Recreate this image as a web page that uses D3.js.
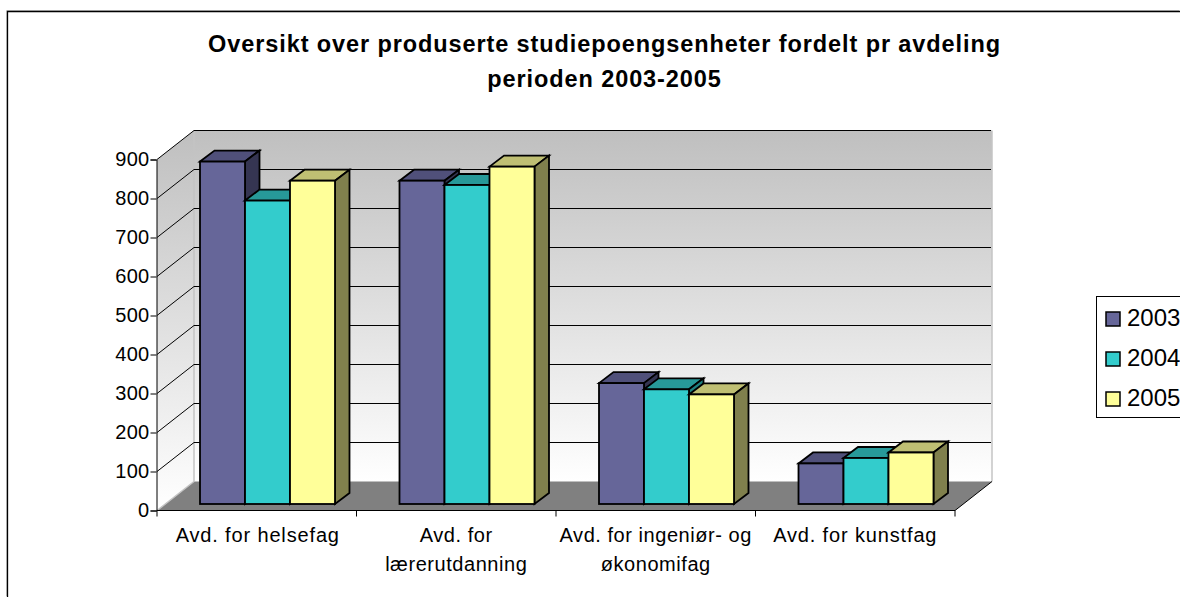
<!DOCTYPE html>
<html><head><meta charset="utf-8">
<script src="https://cdn.jsdelivr.net/npm/d3@7"></script>
<style>html,body{margin:0;padding:0;background:#fff;overflow:hidden}svg{display:block}text{font-family:"Liberation Sans",Arial,sans-serif;fill:#000}</style>
</head><body><svg id="c" width="1180" height="597"></svg>
<script>
const titleLines = ["Oversikt over produserte studiepoengsenheter fordelt pr avdeling","perioden 2003-2005"];
const categories = ["Avd. for helsefag","Avd. for lærerutdanning","Avd. for ingeniør- og økonomifag","Avd. for kunstfag"];
const categoryLines = [["Avd. for helsefag"],["Avd. for","lærerutdanning"],["Avd. for ingeniør- og","økonomifag"],["Avd. for kunstfag"]];
const seriesNames = ["2003","2004","2005"];
const v2003 = [878,829,310,104];
const v2004 = [778,818,294,118];
const v2005 = [829,865,281,132];
const seriesValues = [v2003,v2004,v2005];
const yTicks = [0,100,200,300,400,500,600,700,800,900];
const colors = {"2003":["#666699","#50507a","#353552"],"2004":["#33CCCC","#279999","#1f8080"],"2005":["#FFFF99","#BFBF73","#80804d"]};

const svg = d3.select("#c");
const y = d3.scaleLinear().domain([0,900]).range([510.5,159.5]);
const x0 = d3.scaleBand().domain(categories).range([157,955]);
const x1 = d3.scaleBand().domain(seriesNames).range([43,178]);
const depth = {dx:37,dy:-29};
const bar = {oy:-6.5,dx:14.5,dy:-11};

const defs = svg.append("defs");
const g = defs.append("linearGradient").attr("id","wall").attr("x1",0).attr("x2",0).attr("y1",0).attr("y2",1);
g.append("stop").attr("offset",0).attr("stop-color","#bfbfbf");
g.append("stop").attr("offset",1).attr("stop-color","#ffffff");

// frame
svg.append("path").attr("d","M7.5,597V11.5H1180").attr("fill","none").attr("stroke","#c8c8c8").attr("stroke-width",1).attr("transform","translate(-1,-1)");
svg.append("path").attr("d","M7.5,597V11.5H1180").attr("fill","none").attr("stroke","#000").attr("stroke-width",1.3);

// title
svg.append("g").selectAll("text").data(titleLines).join("text")
  .attr("x",604.5).attr("y",(d,i)=>i?87:52).attr("text-anchor","middle")
  .attr("font-weight","bold").attr("font-size",23.5).attr("letter-spacing",0.9).text(d=>d);

const xL = x0.range()[0], xR = x0.range()[1], yB = y(0), yT = y(900);
const P = pts => "M"+pts.map(p=>p.join(",")).join("L")+"Z";
// walls
svg.append("path").attr("d",P([[xL,yT],[xL+depth.dx,yT+depth.dy],[xL+depth.dx,yB+depth.dy],[xL,yB]])).attr("fill","url(#wall)");
svg.append("rect").attr("x",xL+depth.dx).attr("y",yT+depth.dy).attr("width",xR-xL).attr("height",yB-yT).attr("fill","url(#wall)");
// floor
svg.append("path").attr("d",P([[xL,yB],[xL+depth.dx,yB+depth.dy],[xR+depth.dx,yB+depth.dy],[xR,yB]])).attr("fill","#808080");
// wall edges
svg.append("path").attr("d",`M${xL+depth.dx},${yT+depth.dy}V${yB+depth.dy}L${xL},${yB}`).attr("fill","none").attr("stroke","#c4c4c4").attr("stroke-width",1.5);
svg.append("path").attr("d",`M${xR+depth.dx},${yT+depth.dy}V${yB+depth.dy}`).attr("stroke","#c4c4c4").attr("stroke-width",1.5);
// gridlines
svg.append("g").selectAll("path").data(yTicks.slice(1)).join("path")
  .attr("d",d=>`M${xL},${y(d)}L${xL+depth.dx},${y(d)+depth.dy}H${xR+depth.dx-1}`)
  .attr("fill","none").attr("stroke","#000").attr("stroke-width",1);
// floor front-right edge
svg.append("path").attr("d",`M${xR},${yB}L${xR+depth.dx},${yB+depth.dy}`).attr("stroke","#000").attr("stroke-width",1);

// axes
const yAxis = svg.append("g").attr("transform",`translate(${xL-0.5},0)`).call(d3.axisLeft(y).tickValues(yTicks).tickSize(6).tickPadding(1));
yAxis.select(".domain").attr("stroke","#000");
yAxis.selectAll("text").attr("font-size",20).attr("font-family",null).attr("letter-spacing",0.3);
const tickPos = d3.range(categories.length+1).map(i=>xL+i*x0.step());
svg.append("path").attr("d",`M${xL},${yB}H${xR}`).attr("stroke","#000").attr("fill","none");
svg.append("g").selectAll("path").data(tickPos).join("path").attr("d",d=>`M${d},${yB}v6`).attr("stroke","#000");

// bars
categories.forEach((c,ci)=>{
  seriesNames.forEach((s,si)=>{
    const v = seriesValues[si][ci];
    const bx = x0(c)+x1(s), bw = x1.bandwidth(), by = y(0)+bar.oy, ty = y(v)+bar.oy;
    const [cF,cT,cS] = colors[s];
    const g = svg.append("g").attr("stroke","#000").attr("stroke-width",1.8).attr("stroke-linejoin","miter");
    g.append("path").attr("fill",cT).attr("d",P([[bx,ty],[bx+bar.dx,ty+bar.dy],[bx+bw+bar.dx,ty+bar.dy],[bx+bw,ty]]));
    g.append("path").attr("fill",cS).attr("d",P([[bx+bw,ty],[bx+bw+bar.dx,ty+bar.dy],[bx+bw+bar.dx,by+bar.dy],[bx+bw,by]]));
    g.append("rect").attr("fill",cF).attr("x",bx).attr("y",ty).attr("width",bw).attr("height",by-ty);
  });
});

// category labels
categories.forEach((c,i)=>{
  svg.append("g").selectAll("text").data(categoryLines[i]).join("text")
    .attr("x",x0(c)+x0.bandwidth()/2+(i==0?1:i==3?0:0)).attr("y",(d,k)=>542+k*29)
    .attr("text-anchor","middle").attr("font-size",20).attr("letter-spacing",(i==1||i==2)?0.55:0.85).text(d=>d);
});

// legend
svg.append("rect").attr("x",1096.5).attr("y",296.5).attr("width",100).attr("height",121).attr("fill","#fff").attr("stroke","#000").attr("stroke-width",1);
const ly = d3.scalePoint().domain(seriesNames).range([318,398]);
const lg = svg.append("g").selectAll("g").data(seriesNames).join("g").attr("transform",d=>`translate(0,${ly(d)})`);
lg.append("rect").attr("x",1106).attr("y",-6).attr("width",14).attr("height",14).attr("fill",d=>colors[d][0]).attr("stroke","#000").attr("stroke-width",1.5);
lg.append("text").attr("x",1127).attr("y",8).attr("font-size",24).text(d=>d);
</script></body></html>
